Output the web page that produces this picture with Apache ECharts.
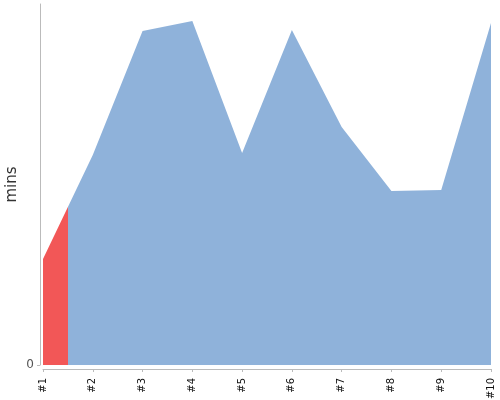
<!DOCTYPE html>
<html>
<head>
<meta charset="utf-8">
<script src="https://cdn.jsdelivr.net/npm/echarts@6/dist/echarts.min.js"></script>
<style>html,body{margin:0;padding:0;background:#fff}#c{width:500px;height:400px}</style>
</head>
<body>
<div id="c"></div>
<script>
var categories = ['#1', '#2', '#3', '#4', '#5', '#6', '#7', '#8', '#9', '#10'];
var minsValues = [10.6, 21.0, 33.4, 34.4, 21.2, 33.5, 23.8, 17.4, 17.5, 34.2];
var yTickValues = [0];
var yMax = 36.1;
var highlightStart = 0;
var highlightEnd = 0.5;

var seriesData = minsValues.map(function (v, i) { return [i, v]; });

var chart = echarts.init(document.getElementById('c'));
chart.setOption({
  animation: false,
  grid: { left: 43, right: 9, top: 4, bottom: 35, outerBoundsMode: 'none', containLabel: false },
  xAxis: {
    type: 'value',
    min: 0,
    max: categories.length - 1,
    interval: 1,
    offset: 4,
    splitLine: { show: false },
    axisLine: { show: true, onZero: false, lineStyle: { color: '#bbb' } },
    axisTick: { show: true, length: 3, lineStyle: { color: '#bbb' } },
    axisLabel: {
      rotate: 90, fontSize: 10, color: '#111', margin: 9, fontFamily: 'DejaVu Sans',
      showMinLabel: true, showMaxLabel: true,
      formatter: function (v) { return categories[Math.round(v)] || ''; }
    }
  },
  yAxis: {
    type: 'value',
    min: 0,
    max: yMax,
    offset: 3,
    name: 'mins',
    nameLocation: 'middle',
    nameGap: 20,
    nameMoveOverlap: false,
    nameTextStyle: { fontSize: 15, color: '#333', fontFamily: 'DejaVu Sans' },
    splitLine: { show: false },
    axisLine: { show: true, onZero: false, lineStyle: { color: '#bbb' } },
    axisTick: { show: true, length: 3, customValues: yTickValues, lineStyle: { color: '#bbb' } },
    axisLabel: {
      customValues: yTickValues,
      fontSize: 12, color: '#555', margin: 6, fontFamily: 'DejaVu Sans'
    }
  },
  visualMap: {
    type: 'piecewise',
    show: false,
    dimension: 0,
    seriesIndex: 0,
    pieces: [
      { gte: highlightStart, lte: highlightEnd, color: '#f25757' }
    ],
    outOfRange: { color: '#8fb2da' }
  },
  series: [{
    type: 'line',
    data: seriesData,
    symbol: 'none',
    lineStyle: { width: 0 },
    areaStyle: { opacity: 1 }
  }]
});
</script>
</body>
</html>
